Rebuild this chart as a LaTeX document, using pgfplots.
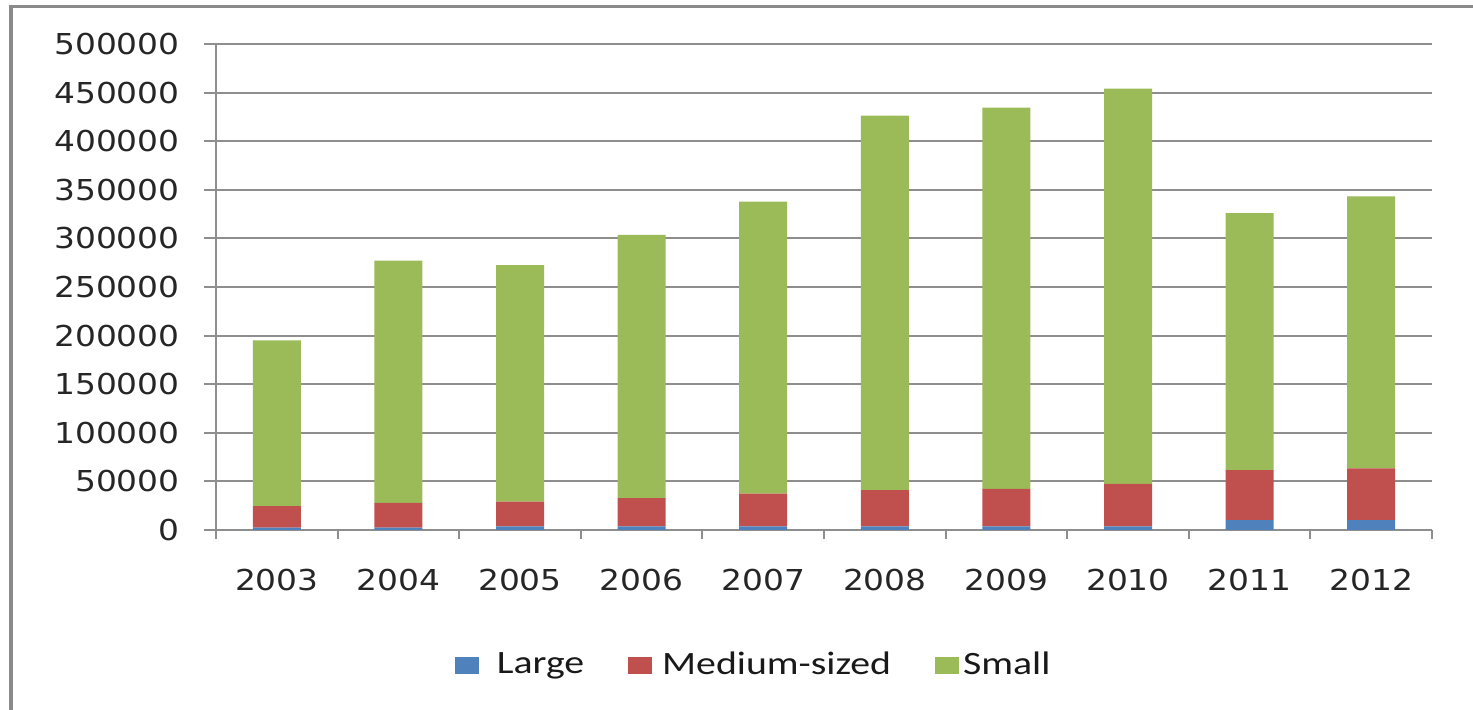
\documentclass[border=0pt]{standalone}
\usepackage{fontspec}
\usepackage{pgfplots}
\pgfplotsset{compat=1.18}
\newfontfamily\tickfont[FakeStretch=1.14]{DejaVu Sans}
\newfontfamily\legfont[FakeStretch=1.22]{Carlito}
\definecolor{cLarge}{HTML}{4F81BD}
\definecolor{cMed}{HTML}{C0504D}
\definecolor{cSmall}{HTML}{9BBB59}
\definecolor{gridc}{HTML}{8E8E8E}
\definecolor{framec}{HTML}{8A8A8A}
\pgfplotstableread{
x L M S
0 2400 22100 170500
1 2400 25600 249100
2 3700 25600 243200
3 3700 29000 270800
4 3700 33800 300300
5 3700 37200 385300
6 3700 38600 392200
7 3700 43700 406700
8 10200 51500 264300
9 10200 53200 279800
}\datatable
\begin{document}
\begin{tikzpicture}[x=1pt,y=1pt]
\useasboundingbox (0,0) rectangle (736.5,355);
\draw[line width=1.8pt, color=framec] (5.5,-10) -- (5.5,351.75) -- (750,351.75);
\begin{axis}[
  at={(108pt,90pt)}, anchor=south west,
  scale only axis, width=608pt, height=243pt,
  ybar stacked, bar width=24pt,
  xmin=-0.5, xmax=9.5, ymin=0, ymax=500000,
  ytick={0,50000,...,500000},
  xtick={0,...,9},
  xticklabels={2003,2004,2005,2006,2007,2008,2009,2010,2011,2012},
  minor xtick={-0.5,0.5,...,9.5},
  scaled y ticks=false,
  yticklabel={\pgfmathprintnumber[fixed,precision=0,1000 sep={},assume math mode=true]{\tick}},
  axis x line*=bottom, axis y line*=left,
  axis line style={-, gridc, line width=1pt},
  ymajorgrids, grid style={gridc, line width=1pt},
  tick align=outside, major tick length=6pt, minor tick length=4.5pt,
  major x tick style={draw=none},
  minor x tick style={gridc, line width=1pt},
  ytick style={gridc, line width=1pt},
  tick label style={font=\tickfont\fontsize{14.4}{17}\selectfont, text=black!85},
  yticklabel style={inner sep=0pt, xshift=-12pt, anchor=east},
  xticklabel style={inner sep=0pt, yshift=-13.5pt, anchor=north},
  legend columns=3,
  legend style={at={(0.443,-0.2778)}, anchor=center, draw=none, fill=none,
    font=\legfont\fontsize{16.3}{19}\selectfont, text=black!90,
    /tikz/every even column/.append style={column sep=20pt}},
  legend cell align=left,
]
\addplot[fill=cLarge, draw=none, legend image code/.code={\fill[cLarge] (0pt,-4.25pt) rectangle (12pt,4.25pt);}] table[x=x,y=L]{\datatable};
\addplot[fill=cMed, draw=none, legend image code/.code={\fill[cMed] (0pt,-4.25pt) rectangle (12pt,4.25pt);}] table[x=x,y=M]{\datatable};
\addplot[fill=cSmall, draw=none, legend image code/.code={\fill[cSmall] (0pt,-4.25pt) rectangle (12pt,4.25pt);}] table[x=x,y=S]{\datatable};
\legend{\hspace{7pt}Large,\hspace{3pt}Medium-sized,Small}
\end{axis}
\end{tikzpicture}
\end{document}
